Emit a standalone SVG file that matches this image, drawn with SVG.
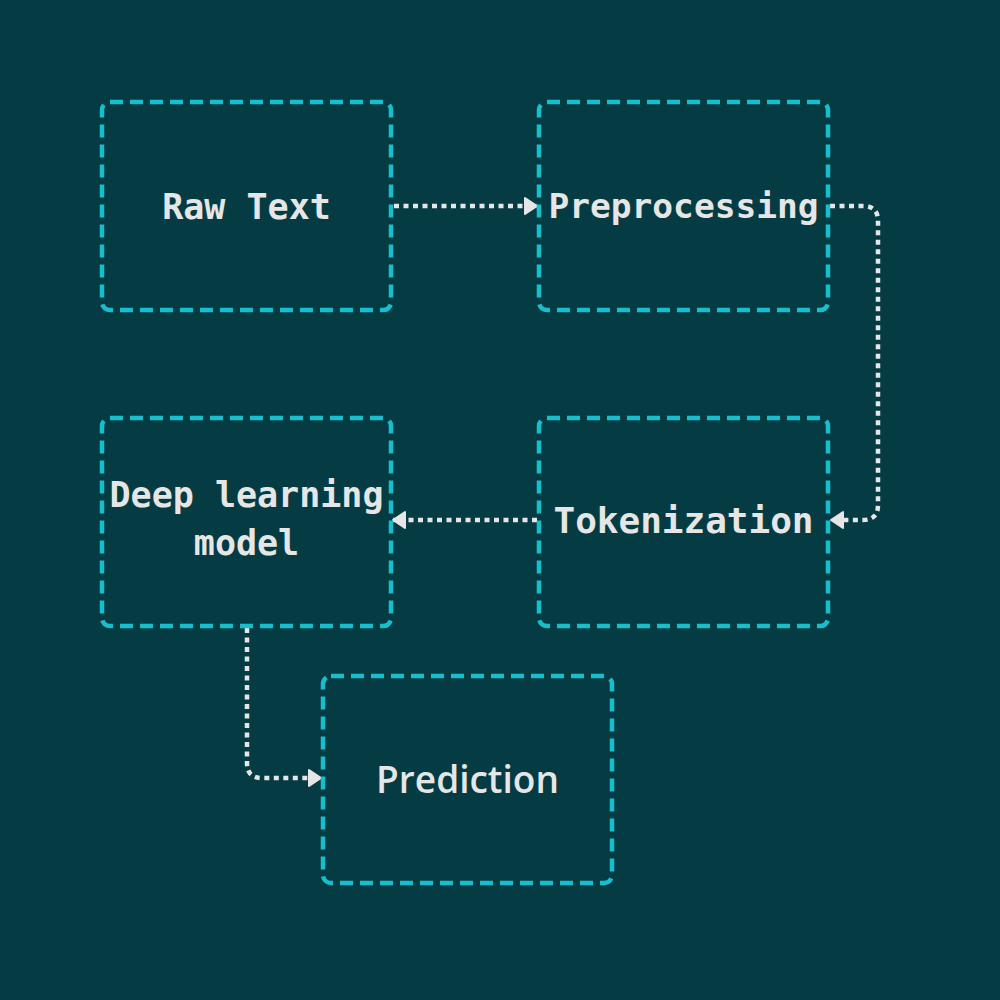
<svg xmlns="http://www.w3.org/2000/svg" width="1000" height="1000" viewBox="0 0 1000 1000">
<defs>
<style>
.box{fill:none;stroke:#17bfcd;stroke-width:4.5;stroke-dasharray:13 7;}
.mono{font-family:"DejaVu Sans Mono","Liberation Mono",monospace;font-weight:bold;font-size:35px;fill:#e6e6e6;text-anchor:middle;}
.sans{font-family:"Open Sans","Noto Sans",sans-serif;font-weight:600;font-size:37px;fill:#e6e6e6;text-anchor:middle;}
.conn{fill:none;stroke:#e6e6e6;stroke-width:4.5;stroke-dasharray:5 4.5;}
</style>
<marker id="arr" viewBox="0 0 14 20" refX="13" refY="10" markerWidth="14" markerHeight="20" markerUnits="userSpaceOnUse" orient="auto">
<path d="M1 2 L13 10 L1 18 Z" fill="#e6e6e6" stroke="#e6e6e6" stroke-width="2" stroke-linejoin="round"/>
</marker>
</defs>
<rect width="1000" height="1000" fill="#053c44"/>
<g id="connectors">
<path class="conn" d="M394 206 L537 206" marker-end="url(#arr)"/>
<path class="conn" d="M830 206 L863 206 Q878 206 878 221 L878 505 Q878 520 863 520 L831 520" marker-end="url(#arr)"/>
<path class="conn" d="M537 520 L393 520" marker-end="url(#arr)"/>
<path class="conn" d="M247 628 L247 763 Q247 778 262 778 L321 778" marker-end="url(#arr)"/>
</g>
<g id="raw-text">
<rect class="box" x="102" y="102" width="289" height="208" rx="8"/>
<text class="mono" x="246.5" y="219">Raw Text</text>
</g>
<g id="preprocessing">
<rect class="box" x="539" y="102" width="289" height="208" rx="8"/>
<text class="mono" x="683.5" y="218" style="font-size:34.5px">Preprocessing</text>
</g>
<g id="tokenization">
<rect class="box" x="539" y="418" width="289" height="208" rx="8"/>
<text class="mono" x="683.5" y="533" style="font-size:36px">Tokenization</text>
</g>
<g id="deep-learning-model">
<rect class="box" x="102" y="418" width="289" height="208" rx="8"/>
<text class="mono" x="246.5" y="507">Deep learning</text>
<text class="mono" x="246.5" y="555">model</text>
</g>
<g id="prediction">
<rect class="box" x="323" y="676" width="289" height="207" rx="8"/>
<text class="sans" x="467.5" y="793">Prediction</text>
</g>
</svg>
